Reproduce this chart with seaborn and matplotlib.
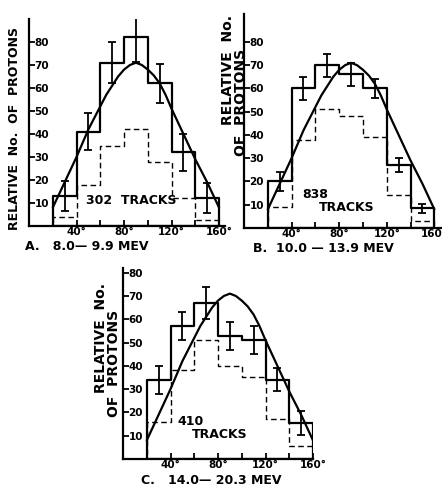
import numpy as np
import pandas as pd
import matplotlib
matplotlib.use("Agg")
import matplotlib.pyplot as plt
import seaborn as sns

# bins (degrees) shared by all three panels
bin_edges = [20, 40, 60, 80, 100, 120, 140, 160]
bin_centers = [30, 50, 70, 90, 110, 130, 150]

# A. 8.0 - 9.9 MEV
a_total = [13, 41, 71, 82, 62, 32, 12]
a_err = [6.5, 8, 9, 10.5, 8.5, 8, 6.5]
a_dashed = [4, 18, 35, 42, 28, 12, 2.5]

# B. 10.0 - 13.9 MEV
b_total = [20, 60, 70, 66, 60, 27, 8.5]
b_err = [4, 5, 5, 5, 4, 3, 2]
b_dashed = [9, 38, 51, 48, 39, 14, 3]

# C. 14.0 - 20.3 MEV
c_total = [34, 57, 67, 53, 51, 34, 15.5]
c_err = [6, 6, 7, 6, 6, 5, 5]
c_dashed = [16, 38, 51, 40, 35, 17, 5.5]

# smooth curve
curve_deg = [20, 25, 30, 35, 40, 45, 50, 55, 60, 65, 70, 75, 80, 85, 90,
             95, 100, 105, 110, 115, 120, 125, 130, 135, 140, 145, 150, 155, 160]
curve_val = [8, 13.5, 19, 24.5, 30, 36, 42, 47, 52, 57, 61, 65, 68, 70, 71,
             70, 68, 65.5, 62, 57, 51, 45.5, 40, 34.5, 29, 24, 19, 13.5, 8]

sns.set_style("ticks")
plt.rcParams["font.family"] = ["DejaVu Sans"]
plt.rcParams["font.weight"] = "bold"
for k in ["text.color", "xtick.color", "ytick.color", "axes.labelcolor", "axes.edgecolor"]:
    plt.rcParams[k] = "black"

W, H = 442, 487
fig = plt.figure(figsize=(W / 100, H / 100), dpi=100)


def box(l, b, r, t):
    return [l / W, 1 - b / H, (r - l) / W, (b - t) / H]


def panel(pos, xmax, ymax, total, err, dashed):
    ax = fig.add_axes(pos)
    sns.histplot(x=bin_centers, weights=total, bins=bin_edges, element="step",
                 fill=True, color="black", facecolor="none", edgecolor="black",
                 linewidth=1.6, ax=ax)
    sns.histplot(x=bin_centers, weights=dashed, bins=bin_edges, element="step",
                 fill=True, color="black", facecolor="none", edgecolor="black",
                 linewidth=1.0, linestyle=(0, (4, 2.5)), ax=ax)
    ax.errorbar(bin_centers, total, yerr=err, fmt="none", ecolor="black",
                elinewidth=1.3, capsize=3, capthick=1.3)
    sns.lineplot(x=curve_deg, y=curve_val, color="black", linewidth=1.6, ax=ax)
    ax.set_xlim(0, xmax)
    ax.set_ylim(0, ymax)
    ax.set_xlabel("")
    ax.set_ylabel("")
    for s in ["top", "right"]:
        ax.spines[s].set_visible(False)
    for s in ["left", "bottom"]:
        ax.spines[s].set_linewidth(1.6)
    ax.set_yticks([10, 20, 30, 40, 50, 60, 70, 80])
    ax.set_yticklabels(["10", "20", "30", "40", "50", "60", "70", "80"])
    ax.set_xticks([40, 80, 120, 160])
    ax.set_xticklabels(["40°", "80°", "120°", "160°"])
    ax.set_xticks([20, 60, 100, 140], minor=True)
    ax.tick_params(axis="y", direction="in", length=4, width=1.3, pad=-4,
                   labelsize=7.5)
    ax.tick_params(axis="x", which="both", direction="in", length=4, width=1.3,
                   pad=1, labelsize=7.5)
    for lab in ax.get_yticklabels():
        lab.set_horizontalalignment("left")
        lab.set_fontweight("bold")
    for lab in ax.get_xticklabels():
        lab.set_fontweight("bold")
    return ax


axA = panel(box(29, 226, 225, 19), 165, 90, a_total, a_err, a_dashed)
axB = panel(box(244, 228, 441.5, 14), 166, 92, b_total, b_err, b_dashed)
axC = panel(box(123, 459, 313, 268), 160, 82, c_total, c_err, c_dashed)

tk = dict(fontsize=9, fontweight="bold", ha="center", va="center")
axA.text(86, 11, "302  TRACKS", **tk)
axB.text(60, 14.5, "838", **tk)
axB.text(86, 9, "TRACKS", **tk)
axC.text(57, 16, "410", **tk)
axC.text(81, 10.5, "TRACKS", **tk)


def ftext(x, y, s, **kw):
    fig.text(x / W, 1 - y / H, s, fontweight="bold", ha="center", va="center", **kw)


ftext(87, 247, "A.   8.0— 9.9 MEV", fontsize=9)
ftext(323, 248, "B.  10.0 — 13.9 MEV", fontsize=9)
ftext(211, 480, "C.   14.0— 20.3 MEV", fontsize=9)

ftext(15, 128, "RELATIVE  No.  OF  PROTONS", fontsize=9, rotation=90)
ftext(228, 70, "RELATIVE  No.", fontsize=10, rotation=90)
ftext(241, 102, "OF  PROTONS", fontsize=10, rotation=90)
ftext(101, 338, "RELATIVE  No.", fontsize=10, rotation=90)
ftext(114, 363, "OF  PROTONS", fontsize=10, rotation=90)

fig.savefig("out.png", dpi=100)
